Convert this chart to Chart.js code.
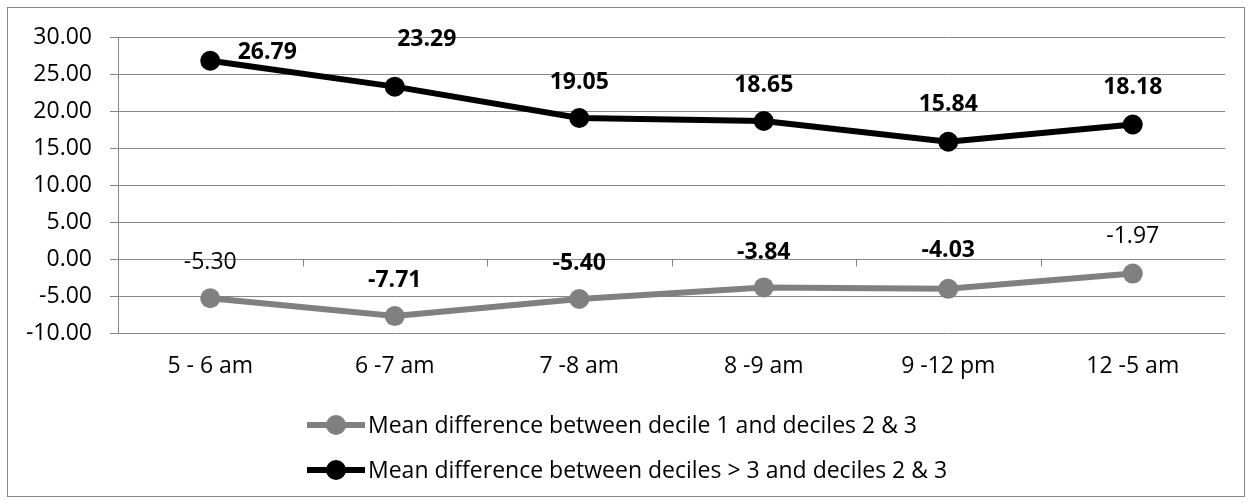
<!DOCTYPE html>
<html>
<head>
<meta charset="utf-8">
<script src="https://cdn.jsdelivr.net/npm/chart.js@4"></script>
<style>
  html, body { margin: 0; padding: 0; background: #fff; }
  #wrap { width: 1252px; height: 504px; }
</style>
</head>
<body>
<div id="wrap"><canvas id="grafico" width="1252" height="504"></canvas></div>
<script>
// dados
const categorias = ['5 - 6 am', '6 -7 am', '7 -8 am', '8 -9 am', '9 -12 pm', '12 -5 am'];
const serieDecil1 = [-5.30, -7.71, -5.40, -3.84, -4.03, -1.97];
const serieDecisMaior3 = [26.79, 23.29, 19.05, 18.65, 15.84, 18.18];
const nomeDecil1 = 'Mean difference between decile 1 and deciles 2 & 3';
const nomeDecisMaior3 = 'Mean difference between deciles > 3 and deciles 2 & 3';
const ticksY = [-10, -5, 0, 5, 10, 15, 20, 25, 30];

const FONTE = '"Open Sans", sans-serif';
const TAM = 23;
const GRADE = '#868686';

// posição dos rótulos (deslocamento em px) e peso da fonte
const estiloRotulos = [
  { dx: [0, 0, 0, 0, 0, 0], dy: [-36, -36, -36, -35, -38, -37], bold: [false, true, true, true, true, false] },
  { dx: [57, 32, 0, 0, 0, 0], dy: [-8, -47, -36, -36, -37, -37], bold: [true, true, true, true, true, true] }
];

const pluginExtras = {
  id: 'extras',
  beforeDraw(chart) {
    const c = chart.ctx;
    c.save();
    c.fillStyle = '#fff';
    c.fillRect(0, 0, chart.width, chart.height);
    c.strokeStyle = GRADE;
    c.lineWidth = 1;
    c.strokeRect(7.5, 7.5, chart.width - 15, chart.height - 15);
    c.restore();
  },
  afterDatasetsDraw(chart) {
    const c = chart.ctx;
    const x = chart.scales.x, y = chart.scales.y;
    // marcas do eixo de categorias sobre a linha do zero
    const y0 = Math.round(y.getPixelForValue(0)) + 0.5;
    const passo = x.getPixelForValue(1) - x.getPixelForValue(0);
    c.save();
    c.strokeStyle = GRADE;
    c.lineWidth = 1;
    for (let i = 0; i < categorias.length - 1; i++) {
      const px = Math.round(x.getPixelForValue(i) + passo / 2) + 0.5;
      c.beginPath();
      c.moveTo(px, y0);
      c.lineTo(px, y0 + 7);
      c.stroke();
    }
    // rótulos de dados
    c.textAlign = 'center';
    c.textBaseline = 'middle';
    c.fillStyle = '#000';
    chart.data.datasets.forEach((ds, d) => {
      const meta = chart.getDatasetMeta(d);
      const est = estiloRotulos[d];
      meta.data.forEach((pt, i) => {
        c.font = (est.bold[i] ? 'bold ' : '') + TAM + 'px ' + FONTE;
        c.fillText(ds.data[i].toFixed(2), pt.x + est.dx[i], pt.y + est.dy[i]);
      });
    });
    c.restore();
  },
  afterDraw(chart) {
    // legenda em duas linhas
    const c = chart.ctx;
    c.save();
    c.font = TAM + 'px ' + FONTE;
    const larg = Math.max(...chart.data.datasets.map(ds => c.measureText(ds.label).width));
    const total = 58 + 3 + larg;
    const x0 = Math.round((chart.width - total) / 2) + 1;
    const linhas = [425, 470];
    chart.data.datasets.forEach((ds, d) => {
      const yy = linhas[d];
      c.strokeStyle = ds.borderColor;
      c.lineWidth = ds.borderWidth;
      c.beginPath();
      c.moveTo(x0, yy);
      c.lineTo(x0 + 58, yy);
      c.stroke();
      c.fillStyle = ds.pointBackgroundColor;
      c.beginPath();
      c.arc(x0 + 29, yy, ds.pointRadius, 0, Math.PI * 2);
      c.fill();
      c.fillStyle = '#000';
      c.textAlign = 'left';
      c.textBaseline = 'middle';
      c.fillText(ds.label, x0 + 61, yy + 1);
    });
    c.restore();
  }
};

new Chart(document.getElementById('grafico'), {
  type: 'line',
  data: {
    labels: categorias,
    datasets: [
      {
        label: nomeDecil1,
        data: serieDecil1,
        borderColor: '#808080',
        backgroundColor: '#808080',
        pointBackgroundColor: '#808080',
        pointBorderColor: '#808080',
        borderWidth: 6,
        pointRadius: 10,
        pointBorderWidth: 0,
        tension: 0
      },
      {
        label: nomeDecisMaior3,
        data: serieDecisMaior3,
        borderColor: '#000000',
        backgroundColor: '#000000',
        pointBackgroundColor: '#000000',
        pointBorderColor: '#000000',
        borderWidth: 6,
        pointRadius: 10,
        pointBorderWidth: 0,
        tension: 0
      }
    ]
  },
  options: {
    responsive: false,
    animation: false,
    events: [],
    layout: { padding: { left: 0, top: 37, right: 27, bottom: 0 } },
    plugins: {
      legend: { display: false },
      tooltip: { enabled: false }
    },
    scales: {
      x: {
        offset: true,
        grid: { display: false, drawTicks: false },
        border: { display: false },
        ticks: { color: '#000', font: { family: FONTE, size: TAM }, padding: 20, maxRotation: 0, autoSkip: false },
        afterFit: s => { s.height = 171; }
      },
      y: {
        min: -10,
        max: 30,
        afterBuildTicks: s => { s.ticks = ticksY.map(v => ({ value: v })); },
        grid: { color: GRADE, lineWidth: 1, tickLength: 8, drawTicks: true },
        border: { display: true, color: GRADE, width: 1 },
        ticks: {
          color: '#000',
          font: { family: FONTE, size: TAM },
          padding: 18,
          callback: v => Number(v).toFixed(2)
        },
        afterFit: s => { s.width = 118; }
      }
    }
  },
  plugins: [pluginExtras]
});
</script>
</body>
</html>
